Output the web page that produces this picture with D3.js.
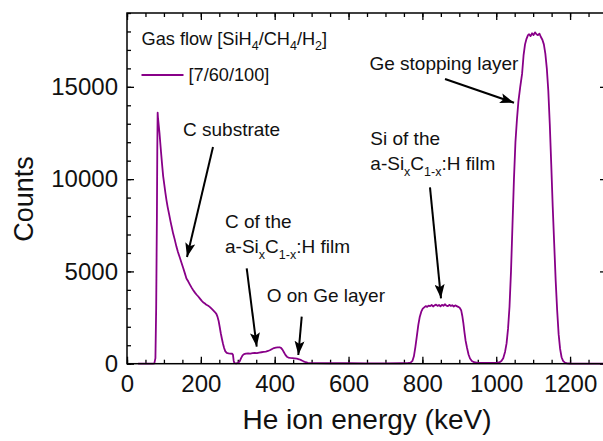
<!DOCTYPE html>
<html>
<head>
<meta charset="utf-8">
<script src="https://cdn.jsdelivr.net/npm/d3@7"></script>
<style>
  html, body { margin: 0; padding: 0; background: #fff; }
  svg { display: block; font-family: "Liberation Sans", Arial, sans-serif; }
  .tick text { font-family: "Liberation Sans", Arial, sans-serif; }
</style>
</head>
<body>
<svg id="chart" width="603" height="441"></svg>
<script>
// RBS spectrum: He ion energy (keV) vs counts
const energyKeV = [
  30, 50, 70, 74, 77, 79, 81, 82, 83, 84, 86, 88, 90, 92, 95, 98, 101, 104, 107, 110,
  114, 118, 121, 125, 129, 134, 138, 143, 148, 152, 157, 161, 166, 170, 175, 179, 184, 188, 193, 197,
  202, 206, 211, 215, 220, 224, 229, 233, 238, 242, 245, 248, 251, 254, 257, 260, 263, 266, 270, 275,
  280, 285, 287, 289, 291, 296, 301, 305, 309, 313, 317, 322, 328, 334, 340, 346, 352, 358, 364, 370,
  376, 382, 388, 393, 398, 403, 408, 413, 417, 421, 425, 429, 433, 437, 442, 448, 454, 460, 466, 472,
  478, 484, 490, 496, 510, 550, 600, 650, 700, 740, 760, 768, 773, 777, 781, 785, 789, 793, 797, 801,
  805, 809, 813, 817, 821, 825, 829, 833, 837, 841, 845, 849, 853, 857, 861, 865, 869, 873, 877, 881,
  885, 889, 893, 897, 901, 905, 908, 911, 914, 917, 921, 925, 929, 934, 940, 950, 970, 990, 1000, 1008,
  1014, 1019, 1024, 1028, 1032, 1036, 1040, 1044, 1048, 1052, 1056, 1060, 1065, 1070, 1074, 1078, 1082, 1086, 1089, 1093,
  1097, 1101, 1105, 1109, 1113, 1117, 1121, 1125, 1129, 1133, 1137, 1141, 1145, 1149, 1153, 1157, 1161, 1165, 1169, 1173,
  1177, 1181, 1186, 1192, 1200, 1250, 1300
];
const counts = [
  0, 0, 5, 20, 300, 3000, 8000, 11500, 13600, 13300, 12900, 12500, 12000, 11500, 10800, 10150, 9700, 9250, 8850, 8500,
  8100, 7700, 7420, 7050, 6750, 6330, 6050, 5750, 5440, 5200, 4880, 4620, 4450, 4300, 4120, 3990, 3850, 3750, 3640, 3540,
  3420, 3330, 3260, 3190, 3140, 3080, 2980, 2900, 2800, 2700, 2550, 2330, 2000, 1650, 1350, 1080, 850, 680, 590, 560,
  550, 540, 480, 150, 30, 15, 40, 120, 300, 450, 520, 550, 560, 550, 570, 580, 575, 600, 620, 640,
  660, 690, 740, 800, 850, 870, 880, 890, 860, 760, 620, 480, 380, 330, 310, 300, 290, 270, 240, 190,
  130, 80, 50, 35, 30, 25, 25, 20, 20, 25, 30, 60, 150, 400, 900, 1500, 2100, 2550, 2820, 2980,
  3050, 3120, 3080, 3150, 3120, 3180, 3100, 3160, 3200, 3130, 3180, 3110, 3190, 3140, 3220, 3150, 3120, 3190, 3130, 3170,
  3100, 3160, 3120, 3080, 3030, 2900, 2600, 2200, 1700, 1250, 850, 500, 280, 150, 80, 50, 40, 40, 45, 70,
  150, 300, 650, 1100, 1900, 3100, 5000, 7500, 10000, 12000, 13200, 14200, 15000, 15700, 16700, 17300, 17600, 17800, 17850, 17750,
  17900, 17800, 17950, 17850, 17800, 17880, 17700, 17550, 17300, 16800, 16000, 14800, 13000, 10800, 8500, 6500, 4500, 2900, 1600, 800,
  350, 150, 60, 20, 10, 5, 5
];

const xMajorTicks = [0, 200, 400, 600, 800, 1000, 1200];
const yMajorTicks = [0, 5000, 10000, 15000];

// Annotation anchors in data units: [keV, counts]
const annotations = [
  { lines: [["C substrate"]], at: [151.7, 12336], from: [232.9, 11740], to: [162.5, 5780] },
  { lines: [["C of the"], ["a-Si", "x", "C", "1-x", ":H film"]], at: [265.4, 7335], from: [324.2, 5168], to: [351.3, 921] },
  { lines: [["O on Ge layer"]], at: [378.4, 3359], from: [473.2, 2546], to: [464.0, 471] },
  { lines: [["Si of the"], ["a-Si", "x", "C", "1-x", ":H film"]], at: [659, 11849], from: [820.6, 9556], to: [850.4, 3543] },
  { lines: [["Ge stopping layer"]], at: [1060, 15911], anchor: "end", from: [861.3, 15424], to: [1048.1, 14138] }
];

const svg = d3.select("#chart");
const plotL = 127, plotR = 607, plotT = 13, plotB = 363.7;

const x = d3.scaleLinear().domain([0, 1300]).range([plotL, plotR]);
const y = d3.scaleLinear().domain([0, 19000]).range([plotB, plotT]);

const purple = "#880088";
const tickFont = 24;

// minor ticks (inward) on all four sides
function minorAxis(axis, at) {
  svg.append("g").attr("transform", at).call(axis.tickFormat(""))
    .call(g => g.select(".domain").remove())
    .call(g => g.selectAll("line").attr("stroke", "#000").attr("stroke-width", 1.3));
}
const xMinor = d3.range(0, 1301, 50);
const yMinor = d3.range(0, 19001, 1000);
minorAxis(d3.axisBottom(x).tickValues(xMinor).tickSize(-4), `translate(0,${plotB})`);
minorAxis(d3.axisTop(x).tickValues(xMinor).tickSize(-4), `translate(0,${plotT})`);
minorAxis(d3.axisLeft(y).tickValues(yMinor).tickSize(-4), `translate(${plotL},0)`);
minorAxis(d3.axisRight(y).tickValues(yMinor).tickSize(-4), `translate(${plotR},0)`);

// major ticks with labels
svg.append("g").attr("transform", `translate(0,${plotB})`)
  .call(d3.axisBottom(x).tickValues(xMajorTicks).tickSize(-7).tickPadding(11).tickFormat(d3.format("d")))
  .call(g => g.select(".domain").remove())
  .call(g => g.selectAll("line").attr("stroke", "#000").attr("stroke-width", 1.3))
  .call(g => g.selectAll("text").attr("font-size", tickFont).attr("fill", "#111"));
svg.append("g").attr("transform", `translate(${plotL},0)`)
  .call(d3.axisLeft(y).tickValues(yMajorTicks).tickSize(-7).tickPadding(9).tickFormat(d3.format("d")))
  .call(g => g.select(".domain").remove())
  .call(g => g.selectAll("line").attr("stroke", "#000").attr("stroke-width", 1.3))
  .call(g => g.selectAll("text").attr("font-size", tickFont).attr("fill", "#111"));
svg.append("g").attr("transform", `translate(0,${plotT})`)
  .call(d3.axisTop(x).tickValues(xMajorTicks).tickSize(-7).tickFormat(""))
  .call(g => g.select(".domain").remove())
  .call(g => g.selectAll("line").attr("stroke", "#000").attr("stroke-width", 1.3));
svg.append("g").attr("transform", `translate(${plotR},0)`)
  .call(d3.axisRight(y).tickValues(yMajorTicks).tickSize(-7).tickFormat(""))
  .call(g => g.select(".domain").remove())
  .call(g => g.selectAll("line").attr("stroke", "#000").attr("stroke-width", 1.3));

// spectrum
const pts = energyKeV.map((e, i) => [e, counts[i]]);
svg.append("path")
  .datum(pts)
  .attr("fill", "none")
  .attr("stroke", purple)
  .attr("stroke-width", 1.8)
  .attr("stroke-linejoin", "round")
  .attr("d", d3.line().x(d => x(d[0])).y(d => y(d[1])));

// frame
svg.append("rect")
  .attr("x", plotL).attr("y", plotT)
  .attr("width", plotR - plotL).attr("height", plotB - plotT)
  .attr("fill", "none").attr("stroke", "#000").attr("stroke-width", 1.5);

// axis titles
svg.append("text")
  .attr("x", 367).attr("y", 429)
  .attr("text-anchor", "middle").attr("font-size", 28).attr("fill", "#111")
  .text("He ion energy (keV)");
svg.append("text")
  .attr("transform", "translate(33,199) rotate(-90)")
  .attr("text-anchor", "middle").attr("font-size", 27).attr("fill", "#111")
  .text("Counts");

// legend
const legFont = 18.2;
const legendTitle = svg.append("text")
  .attr("x", 141.5).attr("y", 45).attr("font-size", legFont).attr("fill", "#111");
[["Gas flow [SiH", 0], ["4", 1], ["/CH", 0], ["4", 1], ["/H", 0], ["2", 1], ["]", 0]].forEach(([t, sub], i, arr) => {
  const prevSub = i > 0 ? arr[i - 1][1] : 0;
  legendTitle.append("tspan")
    .attr("font-size", sub ? 12.5 : legFont)
    .attr("dy", sub ? 5 : (prevSub ? -5 : 0))
    .text(t);
});
svg.append("line")
  .attr("x1", 141.5).attr("x2", 183.5).attr("y1", 75).attr("y2", 75)
  .attr("stroke", purple).attr("stroke-width", 1.8);
svg.append("text")
  .attr("x", 188.5).attr("y", 80.5).attr("font-size", legFont).attr("fill", "#111")
  .text("[7/60/100]");

// annotations
const defs = svg.append("defs");
defs.append("marker")
  .attr("id", "arrowhead")
  .attr("viewBox", "0 0 14 10")
  .attr("refX", 14).attr("refY", 5)
  .attr("markerWidth", 14).attr("markerHeight", 10)
  .attr("markerUnits", "userSpaceOnUse")
  .attr("orient", "auto")
  .append("path").attr("d", "M0,0 L14,5 L0,10 L3,5 Z").attr("fill", "#000");

const annFont = 19;
annotations.forEach(a => {
  const t = svg.append("text")
    .attr("x", x(a.at[0])).attr("y", y(a.at[1]))
    .attr("font-size", annFont).attr("fill", "#111")
    .attr("text-anchor", a.anchor || "start");
  a.lines.forEach((parts, li) => {
    parts.forEach((p, pi) => {
      const isSub = pi % 2 === 1;
      const ts = t.append("tspan").text(p).attr("font-size", isSub ? 12.5 : annFont);
      if (pi === 0) {
        ts.attr("x", x(a.at[0])).attr("dy", li === 0 ? 0 : 25);
      } else {
        ts.attr("dy", isSub ? 6 : -6);
      }
    });
  });
  svg.append("line")
    .attr("x1", x(a.from[0])).attr("y1", y(a.from[1]))
    .attr("x2", x(a.to[0])).attr("y2", y(a.to[1]))
    .attr("stroke", "#000").attr("stroke-width", 2)
    .attr("marker-end", "url(#arrowhead)");
});
</script>
</body>
</html>
